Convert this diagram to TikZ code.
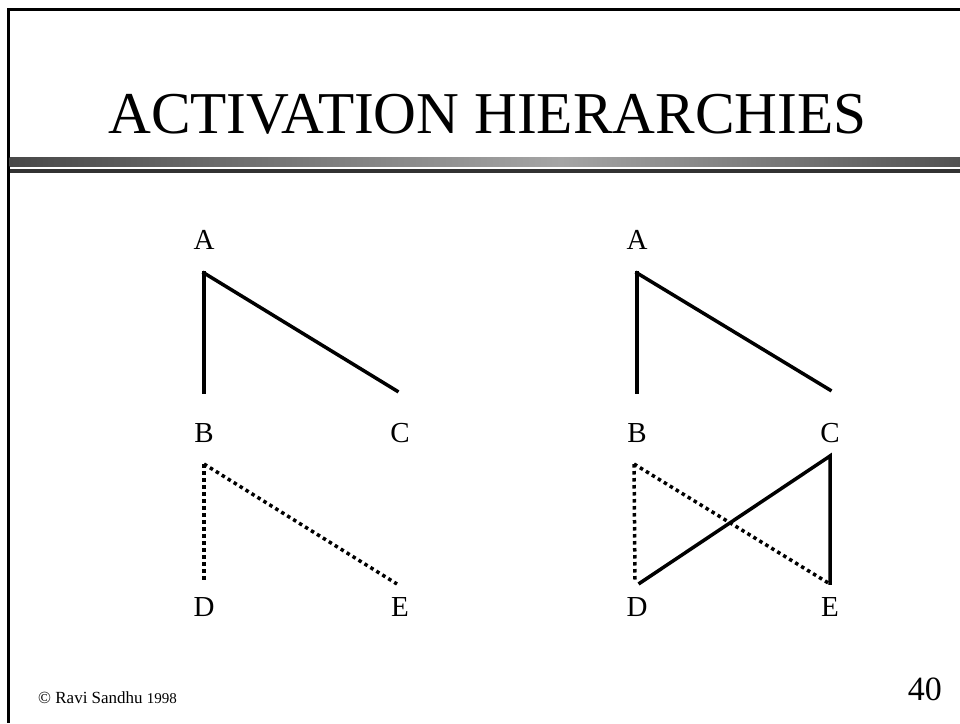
\documentclass[tikz,border=0pt]{standalone}
\usepackage{fontspec}
\setmainfont{Liberation Serif}
\definecolor{bardark}{RGB}{72,72,72}
\definecolor{barlight}{RGB}{165,165,165}
\definecolor{barright}{RGB}{82,82,82}
\definecolor{linedark}{RGB}{50,50,50}
\pgfdeclarehorizontalshading{barshade}{100bp}{color(0bp)=(bardark); color(25bp)=(bardark); color(54bp)=(barlight); color(75bp)=(barright); color(100bp)=(barright)}
\tikzset{
  lbl/.style={inner sep=0pt, font=\fontsize{29}{29}\selectfont},
  solidedge/.style={line width=3.5pt, line cap=rect},
  dotedge/.style={line width=3.5pt, dash pattern=on 3.5pt off 3.5pt},
  frame/.style={line width=3pt, black}
}
\begin{document}
\begin{tikzpicture}[x=1pt,y=-1pt]
\useasboundingbox (0,0) rectangle (960,723);
% frame
\draw[frame] (7,9) -- (960,9);
\draw[frame] (8,8) -- (8,723);
% title bar
\shade[shading=barshade] (9.5,157) rectangle (960,166);
\fill[linedark] (9.5,169) rectangle (960,173);
\node[inner sep=0pt, anchor=base west, font=\fontsize{59.3}{60}\selectfont] (title) at (108,133) {ACTIVATION HIERARCHIES};
% labels left
\node[lbl] (A1) at (204,240) {A};
\node[lbl] (B1) at (204,433) {B};
\node[lbl] (C1) at (400,433) {C};
\node[lbl] (D1) at (204,607) {D};
\node[lbl] (E1) at (400,607) {E};
% labels right
\node[lbl] (A2) at (637,240) {A};
\node[lbl] (B2) at (637,433) {B};
\node[lbl] (C2) at (830,433) {C};
\node[lbl] (D2) at (637,607) {D};
\node[lbl] (E2) at (830,607) {E};
% edge end points
\coordinate (a1) at (204,273);
\coordinate (b1t) at (204,392);
\coordinate (c1t) at (397,391);
\coordinate (b1) at (204,464);
\coordinate (d1t) at (204,580);
\coordinate (e1t) at (397,584);
\coordinate (a2) at (637,273);
\coordinate (b2t) at (637,392);
\coordinate (c2t) at (830,390);
\coordinate (b2) at (634,464);
\coordinate (d2t) at (635,580);
\coordinate (e2t) at (830,584);
\coordinate (c2) at (830,456);
\coordinate (d2s) at (640,583);
\coordinate (e2s) at (830,583);
% left edges
\draw[solidedge] (a1) -- (b1t);
\draw[solidedge] (a1) -- (c1t);
\draw[dotedge] (b1) -- (d1t);
\draw[dotedge] (b1) -- (e1t);
% right edges
\draw[solidedge] (a2) -- (b2t);
\draw[solidedge] (a2) -- (c2t);
\draw[dotedge] (b2) -- (d2t);
\draw[dotedge] (b2) -- (e2t);
\draw[solidedge] (d2s) -- (c2) -- (e2s);
% footer
\node[inner sep=0pt, anchor=base west, font=\fontsize{17}{17}\selectfont] (copy) at (38,703) {© Ravi Sandhu {\fontsize{15}{15}\selectfont 1998}};
\node[inner sep=0pt, anchor=base east, font=\fontsize{34}{34}\selectfont] (page) at (942,700) {40};
\end{tikzpicture}
\end{document}
